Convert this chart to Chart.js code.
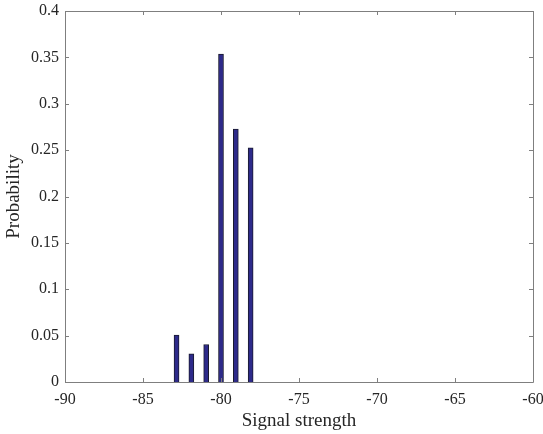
<!DOCTYPE html>
<html>
<head>
<meta charset="utf-8">
<script src="https://cdn.jsdelivr.net/npm/chart.js@4/dist/chart.umd.min.js"></script>
<style>
  html, body { margin: 0; padding: 0; background: #ffffff; }
  #wrap { position: relative; width: 543px; height: 434px; }
</style>
</head>
<body>
<div id="wrap"><canvas id="c" width="543" height="434"></canvas></div>
<script>
// Bin centres (signal strength) and probabilities
const binCenters = [-82.85, -81.9, -80.95, -80.0, -79.05, -78.1];
const probabilities = [0.0505, 0.0303, 0.0404, 0.3535, 0.2727, 0.2525];
const xTicks = [-90, -85, -80, -75, -70, -65, -60];
const yTicks = [0, 0.05, 0.1, 0.15, 0.2, 0.25, 0.3, 0.35, 0.4];

const axisColor = '#7f7f7f';
const fontFamily = '"Liberation Serif", "Times New Roman", serif';

const boxTicks = {
  id: 'boxTicks',
  afterDraw(chart) {
    const ctx = chart.ctx;
    const a = chart.chartArea;
    const xs = chart.scales.x, ys = chart.scales.y;
    const L = 4;
    ctx.save();
    ctx.strokeStyle = axisColor;
    ctx.lineWidth = 1;
    ctx.beginPath();
    ctx.rect(Math.round(a.left) + 0.5, Math.round(a.top) + 0.5,
             Math.round(a.right - a.left), Math.round(a.bottom - a.top));
    xTicks.forEach(v => {
      const px = Math.round(xs.getPixelForValue(v)) + 0.5;
      ctx.moveTo(px, a.bottom); ctx.lineTo(px, a.bottom - L);
      ctx.moveTo(px, a.top); ctx.lineTo(px, a.top + L);
    });
    yTicks.forEach(v => {
      const py = Math.round(ys.getPixelForValue(v)) + 0.5;
      ctx.moveTo(a.left, py); ctx.lineTo(a.left + L, py);
      ctx.moveTo(a.right, py); ctx.lineTo(a.right - L, py);
    });
    ctx.stroke();
    ctx.restore();
  }
};

new Chart(document.getElementById('c'), {
  type: 'bar',
  data: {
    datasets: [{
      data: binCenters.map((x, i) => ({ x: x, y: probabilities[i] })),
      backgroundColor: '#2d2a8a',
      borderColor: '#1a1a2e',
      borderWidth: 1,
      barThickness: 5
    }]
  },
  options: {
    responsive: false,
    animation: false,
    devicePixelRatio: 1,
    layout: { padding: { top: 11, right: 10, bottom: 0, left: 0 } },
    plugins: { legend: { display: false }, tooltip: { enabled: false } },
    scales: {
      x: {
        type: 'linear',
        min: -90, max: -60,
        offset: false,
        afterBuildTicks(scale) { scale.ticks = xTicks.map(v => ({ value: v })); },
        afterFit(scale) { scale.height = 52; scale.paddingLeft = 0; scale.paddingRight = 0; },
        grid: { display: false, drawTicks: false },
        border: { display: false },
        ticks: {
          color: '#262626',
          font: { family: fontFamily, size: 16 },
          padding: 8,
          maxRotation: 0,
          autoSkip: false,
          callback: v => String(v)
        },
        title: {
          display: true,
          text: 'Signal strength',
          color: '#262626',
          font: { family: fontFamily, size: 19 },
          padding: { top: 0, bottom: 2 }
        }
      },
      y: {
        type: 'linear',
        min: 0, max: 0.4,
        afterBuildTicks(scale) { scale.ticks = yTicks.map(v => ({ value: v })); },
        afterFit(scale) { scale.width = 65; scale.paddingTop = 0; scale.paddingBottom = 0; },
        grid: { display: false, drawTicks: false },
        border: { display: false },
        ticks: {
          color: '#262626',
          font: { family: fontFamily, size: 16 },
          padding: 6,
          autoSkip: false,
          callback: v => String(Math.round(v * 100) / 100)
        },
        title: {
          display: true,
          text: 'Probability',
          color: '#262626',
          font: { family: fontFamily, size: 19 },
          padding: { top: 3, bottom: 0 }
        }
      }
    }
  },
  plugins: [boxTicks]
});
</script>
</body>
</html>
